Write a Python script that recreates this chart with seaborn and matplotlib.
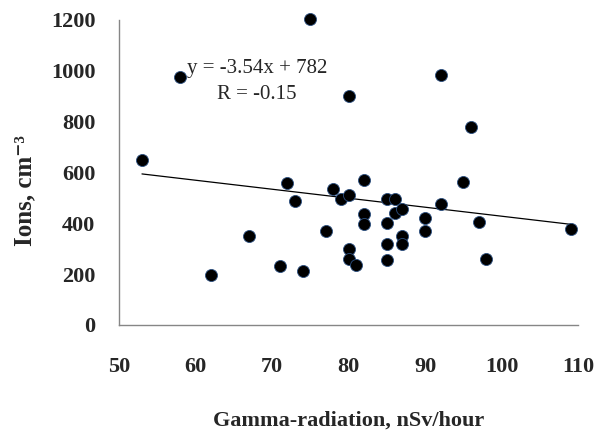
import numpy as np
import pandas as pd
import matplotlib
matplotlib.use("Agg")
import matplotlib.pyplot as plt
import seaborn as sns

gamma = [53, 58, 62, 67, 71, 72, 73, 74, 75, 77, 78, 79,
         80, 80, 80, 80, 81, 82, 82, 82,
         85, 85, 85, 85, 86, 86, 87, 87, 87,
         90, 90, 92, 92, 95, 96, 97, 98, 109]
ions = [650, 977, 197, 350, 233, 560, 489, 214, 1202, 369, 537, 494,
        511, 901, 298, 260, 237, 570, 435, 397,
        494, 400, 318, 255, 494, 440, 455, 350, 318,
        420, 369, 985, 475, 564, 780, 404, 258, 377]
slope = -3.54
intercept = 782
eq_text = "y = -3.54x + 782"
r_text = "R = -0.15"
x_ticks = [50, 60, 70, 80, 90, 100, 110]
y_ticks = [0, 200, 400, 600, 800, 1000, 1200]

df = pd.DataFrame({"gamma": gamma, "ions": ions})

sns.set_style("white")
plt.rcParams['font.family'] = ['Liberation Serif', 'DejaVu Serif']

fig = plt.figure(figsize=(6.10, 4.34), dpi=100)
ax = fig.add_axes([119/610, 1 - 325/434, (578.3-119)/610, (325-20)/434])

sns.scatterplot(data=df, x="gamma", y="ions", ax=ax, s=75, color="black",
                edgecolor="#2b4f80", linewidth=0.6, zorder=3, clip_on=False)

xl = np.array([min(gamma), max(gamma)])
ax.plot(xl, slope * xl + intercept, color="black", lw=0.9, zorder=2)

ax.set_xlim(50, 110)
ax.set_ylim(0, 1200)
ax.set_xticks(x_ticks)
ax.set_yticks(y_ticks)
ax.set_xticklabels([str(t) for t in x_ticks], fontsize=16, fontweight="bold")
ax.set_yticklabels([str(t) for t in y_ticks], fontsize=16, fontweight="bold")
for s in ["top", "right"]:
    ax.spines[s].set_visible(False)
for s in ["left", "bottom"]:
    ax.spines[s].set_color("#868686")
    ax.spines[s].set_linewidth(1.0)
ax.tick_params(axis="both", direction="out", length=6, width=1.0, color="#868686")
ax.tick_params(axis="x", pad=17)
ax.tick_params(axis="y", pad=11)

ax.set_xlabel("Gamma-radiation, nSv/hour", fontsize=16, fontweight="bold", labelpad=24)
ax.set_ylabel("Ions, cm\u207B\u00B3", fontsize=18, fontweight="bold")
ax.yaxis.set_label_coords(-0.18, 0.44)

ax.text(68.0, 1011, eq_text, fontsize=15, ha="center", va="center")
ax.text(68.0, 905, r_text, fontsize=15, ha="center", va="center")

fig.savefig("out.png", dpi=100)
